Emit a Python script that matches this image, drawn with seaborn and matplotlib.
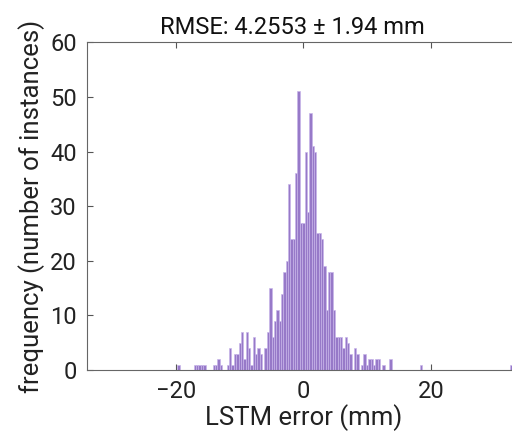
import numpy as np
import pandas as pd
import matplotlib
matplotlib.use("Agg")
import matplotlib.pyplot as plt
import seaborn as sns

# histogram of LSTM error
# bin number k -> bin [bin_origin + k*bin_width, bin_origin + (k+1)*bin_width)
bin_origin = -0.941  # mm, left edge of the tallest bin
bin_width = 0.3697   # mm
bin_k = [-51, -44, -43, -42, -41, -40, -36, -35, -34, -33,
         -30, -29, -28, -27, -26, -25, -24, -23, -22, -21, -20, -19, -18, -17, -16,
         -14, -13, -12, -11, -10, -9, -8, -7, -6, -5, -4, -3, -2, -1,
         0, 1, 2, 3, 4, 5, 6, 7, 8, 9, 10, 11, 12, 13, 14, 15, 16, 17, 18, 19, 20, 21, 22,
         24, 25, 27, 28, 29, 30, 31, 32, 33, 34, 36, 39, 52, 90]
bin_count = [1, 1, 1, 1, 1, 1, 1, 1, 2, 1,
             1, 4, 1, 3, 3, 5, 7, 2, 7, 4, 1, 6, 3, 4, 3,
             4, 7, 15, 6, 9, 11, 9, 14, 18, 20, 34, 24, 24, 36,
             51, 27, 27, 40, 29, 47, 41, 40, 25, 25, 24, 19, 11, 18, 18, 11, 6, 6, 6, 4, 6, 5, 3,
             4, 3, 1, 3, 1, 2, 2, 1, 2, 2, 1, 2, 1, 1]
title_text = "RMSE: 4.2553 \u00b1 1.94 mm"
x_label = "LSTM error (mm)"
y_label = "frequency (number of instances)"
x_ticks = [-20, 0, 20]
y_ticks = [0, 10, 20, 30, 40, 50, 60]

k_min, k_max = min(bin_k), max(bin_k)
lo = bin_origin + bin_width * k_min
hi = bin_origin + bin_width * (k_max + 1)
df = pd.DataFrame({
    "err": bin_origin + bin_width * (np.array(bin_k) + 0.5),
    "n": bin_count,
})

sns.set_style("white")
plt.rcParams['font.family'] = ['Roboto', 'DejaVu Sans']

fig = plt.figure(figsize=(5.12, 4.32), dpi=100)
ax = fig.add_axes([0.1693, 0.1435, 0.8467, 0.7587])

sns.histplot(data=df, x="err", weights="n", binwidth=bin_width, binrange=(lo, hi),
             ax=ax, color="#9779c8", edgecolor="#c7b5ea", linewidth=0.45, alpha=1.0)

ax.set_xlim(-34, 34)
ax.set_ylim(0, 60)
ax.set_xticks(x_ticks)
ax.set_yticks(y_ticks)
ax.tick_params(direction="in", length=4, width=0.8, color="#555555",
               labelsize=17, labelcolor="#222222", top=True, right=True,
               bottom=True, left=True, pad=7)
for s in ax.spines.values():
    s.set_color("#666666")
    s.set_linewidth(0.8)

ax.set_xlabel(x_label, fontsize=18.5, color="#222222", labelpad=1)
ax.set_ylabel(y_label, fontsize=18.5, color="#222222", labelpad=4)
ax.set_title(title_text, fontsize=17, color="#111111", pad=6, x=0.475)

fig.savefig("out.png", dpi=100, facecolor="white")
